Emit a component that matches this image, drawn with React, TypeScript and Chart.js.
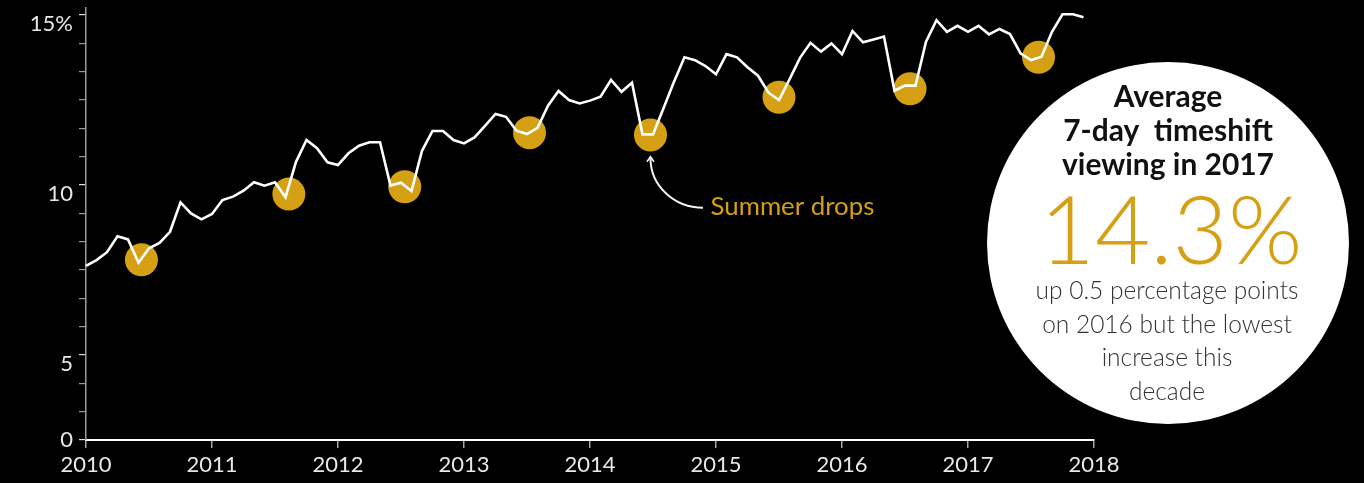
import React, { useEffect, useRef } from "react";
import { Chart, registerables } from "chart.js";

Chart.register(...registerables);

// ---------- data ----------
const startYear = 2010;
// Monthly 7-day timeshift share of viewing (%), Jan 2010 .. Dec 2017
const timeshiftShare = [
  6.15, 6.35, 6.63, 7.19, 7.08, 6.26, 6.77, 6.96, 7.35, 8.39, 8.0, 7.79,
  7.98, 8.47, 8.59, 8.8, 9.1, 8.98, 9.1, 8.57, 9.82, 10.59, 10.3, 9.8,
  9.71, 10.12, 10.39, 10.51, 10.51, 8.98, 9.08, 8.79, 10.21, 10.91, 10.91, 10.59,
  10.47, 10.68, 11.09, 11.51, 11.41, 10.92, 10.8, 11.02, 11.8, 12.32, 12.0, 11.88,
  11.98, 12.12, 12.71, 12.29, 12.61, 10.79, 10.79, 11.71, 12.65, 13.51, 13.41, 13.2,
  12.91, 13.62, 13.51, 13.16, 12.86, 12.26, 12.0, 12.73, 13.49, 14.02, 13.71, 14.0,
  13.62, 14.44, 14.04, 14.14, 14.24, 12.33, 12.51, 12.51, 14.06, 14.82, 14.41, 14.62,
  14.41, 14.62, 14.32, 14.51, 14.33, 13.65, 13.41, 13.53, 14.41, 15.03, 15.03, 14.92,
];
// Summer-drop highlight circles (decimal year, %)
const summerDropX = [2010.44, 2011.61, 2012.53, 2013.52, 2014.48, 2015.5, 2016.54, 2017.56];
const summerDropY = [6.36, 8.68, 8.94, 10.85, 10.77, 12.1, 12.4, 13.51];

const xTickLabels = ["2010", "2011", "2012", "2013", "2014", "2015", "2016", "2017", "2018"];
const yTickLabels = ["0", "", "", "5", "", "", "", "", "", "10", "", "", "", "", "", "15%"];

const annotationText = "Summer drops";
const annotationTip = { x: 2014.48, y: 10.0 };

const headlineLines = ["Average", "7-day  timeshift", "viewing in 2017"];
const bigValue = "14.3%";
const subLines = ["up 0.5 percentage points", "on 2016 but the lowest", "increase this", "decade"];

// ---------- styles ----------
const GOLD = "rgb(213,160,20)";
const FONT = "Lato, 'Open Sans', sans-serif";

function fitSize(ctx: CanvasRenderingContext2D, text: string, weight: string, target: number) {
  ctx.font = `${weight} 100px ${FONT}`;
  const w = ctx.measureText(text).width;
  return (100 * target) / w;
}

const overlayPlugin = {
  id: "overlay",
  afterDraw(chart: any) {
    const ctx: CanvasRenderingContext2D = chart.ctx;
    const xs = chart.scales.x;
    const ys = chart.scales.y;
    ctx.save();

    // --- Summer drops annotation ---
    const tipX = xs.getPixelForValue(annotationTip.x);
    const tipY = ys.getPixelForValue(annotationTip.y);
    const cx = tipX + 52.5;
    const cy = tipY + 1.5;
    ctx.strokeStyle = "#f2f2f2";
    ctx.lineWidth = 2;
    ctx.beginPath();
    ctx.ellipse(cx, cy, 52.5, 49.5, 0, Math.PI / 2, Math.PI, false);
    ctx.stroke();
    ctx.beginPath();
    ctx.moveTo(tipX - 3.5, tipY + 5);
    ctx.lineTo(tipX, tipY);
    ctx.lineTo(tipX + 3.5, tipY + 5);
    ctx.lineWidth = 1.6;
    ctx.stroke();

    const s = fitSize(ctx, annotationText, "400", 164);
    ctx.font = `400 ${s}px ${FONT}`;
    ctx.fillStyle = GOLD;
    ctx.textAlign = "left";
    ctx.textBaseline = "alphabetic";
    ctx.fillText(annotationText, tipX + 60, tipY + 58);

    // --- Big white circle ---
    const area = chart.chartArea;
    const ccx = area.right + 74;
    const ccy = 243;
    ctx.fillStyle = "#ffffff";
    ctx.beginPath();
    ctx.arc(ccx, ccy, 181, 0, Math.PI * 2);
    ctx.fill();

    ctx.textAlign = "center";
    const hs = fitSize(ctx, headlineLines[2], "700", 212);
    ctx.font = `700 ${hs}px ${FONT}`;
    ctx.fillStyle = "#111111";
    const headBase = [106.5, 141, 174.5];
    headlineLines.forEach((t, i) => ctx.fillText(t, ccx, headBase[i]));

    const bs = fitSize(ctx, bigValue, "300", 263);
    ctx.font = `300 ${bs}px ${FONT}`;
    ctx.fillStyle = GOLD;
    ctx.fillText(bigValue, ccx + 3, 264);

    const ss = fitSize(ctx, subLines[0], "300", 263);
    ctx.font = `300 ${ss}px ${FONT}`;
    ctx.fillStyle = "#333333";
    const subBase = [298.5, 332.5, 366, 399.5];
    subLines.forEach((t, i) => ctx.fillText(t, ccx - 1, subBase[i]));

    ctx.restore();
  },
};

export default function App() {
  const canvasRef = useRef<HTMLCanvasElement | null>(null);

  useEffect(() => {
    if (!canvasRef.current) return;
    const linePoints = timeshiftShare.map((v, i) => ({ x: startYear + i / 12, y: v }));
    const dropPoints = summerDropX.map((x, i) => ({ x, y: summerDropY[i] }));

    const chart = new Chart(canvasRef.current, {
      type: "line",
      data: {
        datasets: [
          {
            type: "line",
            data: linePoints,
            borderColor: "#ffffff",
            borderWidth: 2.6,
            pointRadius: 0,
            tension: 0,
            fill: false,
            order: 1,
            clip: false as any,
          },
          {
            type: "scatter",
            data: dropPoints,
            backgroundColor: GOLD,
            borderWidth: 0,
            pointRadius: 16.5,
            pointHoverRadius: 16.5,
            order: 2,
            clip: false as any,
          } as any,
        ],
      },
      options: {
        animation: false,
        responsive: false,
        events: [],
        layout: { autoPadding: false, padding: { top: 8, right: 270, left: 0, bottom: 0 } },
        plugins: { legend: { display: false }, tooltip: { enabled: false } },
        scales: {
          x: {
            type: "linear",
            min: 2010,
            max: 2018,
            afterFit: (scale: any) => {
              scale.height = 43;
              scale.paddingLeft = 0;
              scale.paddingRight = 0;
            },
            ticks: {
              stepSize: 1,
              autoSkip: false,
              maxRotation: 0,
              padding: 4,
              color: "#e8e8e8",
              font: { family: FONT, size: 22 },
              callback: (v: any) => xTickLabels[Math.round(Number(v)) - startYear] ?? "",
            },
            grid: { drawOnChartArea: false, drawTicks: true, tickLength: 8, color: "#a8a8a8", lineWidth: 1.5 },
            border: { display: true, color: "#ffffff", width: 2 },
          },
          y: {
            type: "linear",
            min: 0,
            max: 15.25,
            afterFit: (scale: any) => {
              scale.width = 86;
              scale.paddingTop = 0;
              scale.paddingBottom = 0;
            },
            afterBuildTicks: (scale: any) => {
              scale.ticks = scale.ticks.filter((t: any) => Number.isInteger(t.value));
            },
            ticks: {
              stepSize: 1,
              includeBounds: false,
              autoSkip: false,
              padding: 6,
              color: "#e8e8e8",
              font: { family: FONT, size: 22, lineHeight: 17 / 22 },
              // labels above zero hang just below their tick, as in the source graphic
              callback: (v: any) => {
                const idx = Math.round(Number(v));
                const lab = yTickLabels[idx] ?? "";
                return idx > 0 && lab ? ["", lab] : lab;
              },
            },
            grid: {
              drawOnChartArea: false,
              drawTicks: true,
              tickLength: 7,
              color: (c: any) => (c.tick && yTickLabels[Math.round(c.tick.value)] ? "#e0e0e0" : "#9a9a9a"),
              lineWidth: 1.2,
            },
            border: { display: true, color: "#9a9a9a", width: 1.5 },
          },
        },
      },
      plugins: [overlayPlugin],
    } as any);

    return () => chart.destroy();
  }, []);

  return (
    <div
      style={{
        position: "fixed",
        left: 0,
        top: 0,
        width: 1364,
        height: 483,
        background: "#000000",
      }}
    >
      <canvas ref={canvasRef} width={1364} height={483} style={{ display: "block" }} />
    </div>
  );
}
